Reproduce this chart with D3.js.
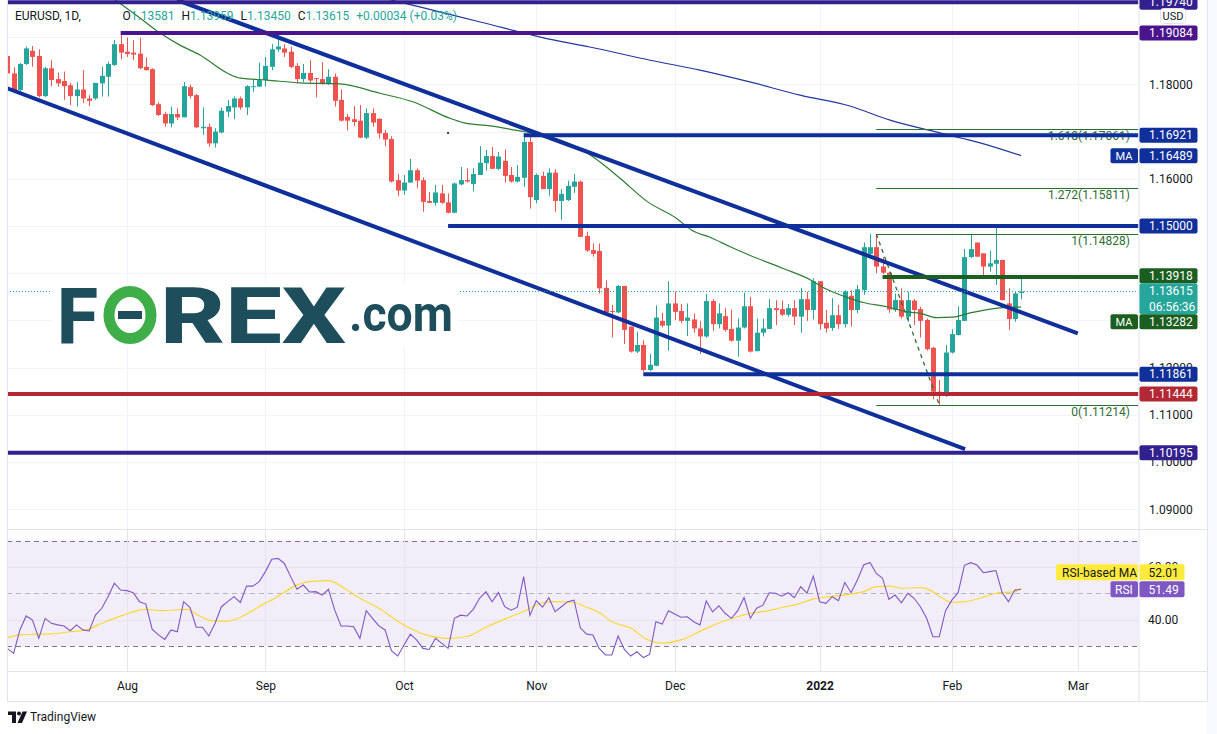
<!DOCTYPE html>
<html><head><meta charset="utf-8">
<script src="https://cdn.jsdelivr.net/npm/d3@7/dist/d3.min.js"></script>
<style>
html,body{margin:0;padding:0;background:#fff;}
svg{display:block;}
text{font-family:Roboto,"DejaVu Sans",Arial,sans-serif;}
</style></head><body>
<svg id="chart" width="1217" height="734"></svg>
<script>
// ---------------- DATA ----------------
const symbolTitle = "EURUSD, 1D,";
const countdown = "06:56:36";
const changeText = "+0.00034 (+0.03%)";

const openP = [
1.1860,1.1823,1.1788,1.1843,1.1871,1.1860,1.1775,1.1834,1.1811,1.1807,
1.1798,1.1775,1.1789,1.1770,1.1770,1.1802,1.1816,1.1841,1.1885,1.1869,
1.1867,1.1865,1.1837,1.1832,1.1758,1.1737,1.1717,1.1737,1.1730,1.1794,
1.1777,1.1707,1.1710,1.1675,1.1698,1.1742,1.1751,1.1770,1.1751,1.1794,
1.1795,1.1809,1.1837,1.1874,1.1876,1.1869,1.1839,1.1811,1.1824,1.1813,
1.1811,1.1801,1.1816,1.1767,1.1731,1.1726,1.1723,1.1687,1.1739,1.1727,
1.1697,1.1684,1.1597,1.1575,1.1592,1.1618,1.1597,1.1553,1.1549,1.1569,
1.1550,1.1528,1.1588,1.1597,1.1589,1.1608,1.1633,1.1648,1.1621,1.1638,
1.1608,1.1594,1.1602,1.1678,1.1555,1.1606,1.1578,1.1613,1.1553,1.1555,
1.1583,1.1594,1.1479,1.1449,1.1447,1.1369,1.1320,1.1317,1.1373,1.1287,
1.1234,1.1248,1.1195,1.1204,1.1299,1.1289,1.1336,1.1320,1.1299,1.1302,
1.1283,1.1266,1.1341,1.1292,1.1309,1.1282,1.1257,1.1285,1.1330,1.1235,
1.1274,1.1282,1.1326,1.1324,1.1312,1.1326,1.1308,1.1345,1.1322,1.1383,
1.1295,1.1284,1.1311,1.1292,1.1352,1.1322,1.1364,1.1441,1.1455,1.1414,
1.1401,1.1322,1.1343,1.1308,1.1342,1.1324,1.1301,1.1242,1.1149,1.1147,
1.1232,1.1269,1.1299,1.1434,1.1465,1.1442,1.1414,1.1420,1.1428,1.1336,
1.1303,1.13581];
const highP = [
1.1864,1.1836,1.1845,1.1880,1.1881,1.1874,1.1837,1.1851,1.1825,1.1827,
1.1803,1.1805,1.1830,1.1777,1.1803,1.1837,1.1848,1.1894,1.1904,1.1899,
1.1894,1.1899,1.1857,1.1834,1.1762,1.1742,1.1753,1.1749,1.1805,1.1799,
1.1780,1.1751,1.1717,1.1707,1.1751,1.1767,1.1774,1.1774,1.1798,1.1811,
1.1846,1.1858,1.1885,1.1904,1.1885,1.1880,1.1845,1.1843,1.1851,1.1813,
1.1847,1.1832,1.1823,1.1789,1.1737,1.1754,1.1756,1.1749,1.1749,1.1728,
1.1703,1.1690,1.1610,1.1608,1.1642,1.1622,1.1603,1.1572,1.1587,1.1587,
1.1569,1.1592,1.1625,1.1622,1.1622,1.1669,1.1661,1.1667,1.1657,1.1662,
1.1625,1.1629,1.1695,1.1689,1.1611,1.1615,1.1622,1.1620,1.1578,1.1596,
1.1610,1.1596,1.1488,1.1463,1.1463,1.1385,1.1333,1.1375,1.1373,1.1287,
1.1276,1.1258,1.1229,1.1332,1.1316,1.1383,1.1361,1.1335,1.1336,1.1315,
1.1299,1.1356,1.1345,1.1336,1.1326,1.1323,1.1304,1.1359,1.1350,1.1304,
1.1304,1.1345,1.1343,1.1342,1.1335,1.1343,1.1369,1.1361,1.1389,1.1383,
1.1322,1.1347,1.1333,1.1364,1.1364,1.1375,1.1465,1.1483,1.1483,1.1434,
1.1403,1.1357,1.1368,1.1361,1.1345,1.1329,1.1304,1.1244,1.1174,1.1248,
1.1281,1.1330,1.1451,1.1483,1.1465,1.1442,1.1448,1.1497,1.1429,1.1368,
1.1361,1.13959];
const lowP = [
1.1820,1.1784,1.1784,1.1841,1.1837,1.1772,1.1773,1.1796,1.1795,1.1767,
1.1756,1.1753,1.1760,1.1754,1.1767,1.1774,1.1774,1.1839,1.1853,1.1858,
1.1851,1.1832,1.1829,1.1754,1.1733,1.1710,1.1709,1.1724,1.1730,1.1770,
1.1707,1.1693,1.1668,1.1666,1.1696,1.1730,1.1726,1.1746,1.1735,1.1784,
1.1795,1.1795,1.1830,1.1869,1.1858,1.1834,1.1802,1.1805,1.1803,1.1772,
1.1799,1.1799,1.1753,1.1721,1.1702,1.1712,1.1686,1.1684,1.1710,1.1685,
1.1669,1.1592,1.1563,1.1566,1.1591,1.1580,1.1530,1.1549,1.1543,1.1547,
1.1527,1.1527,1.1586,1.1592,1.1573,1.1608,1.1617,1.1621,1.1618,1.1592,
1.1592,1.1592,1.1583,1.1537,1.1548,1.1578,1.1564,1.1530,1.1513,1.1553,
1.1570,1.1476,1.1445,1.1435,1.1357,1.1315,1.1264,1.1315,1.1250,1.1232,
1.1231,1.1191,1.1193,1.1203,1.1285,1.1236,1.1301,1.1294,1.1267,1.1274,
1.1229,1.1263,1.1278,1.1283,1.1276,1.1255,1.1223,1.1283,1.1232,1.1234,
1.1266,1.1281,1.1290,1.1309,1.1308,1.1290,1.1274,1.1299,1.1302,1.1280,
1.1274,1.1278,1.1282,1.1285,1.1287,1.1315,1.1354,1.1430,1.1400,1.1398,
1.1316,1.1318,1.1304,1.1297,1.1290,1.1264,1.1236,1.1133,1.1121,1.1138,
1.1230,1.1268,1.1298,1.1432,1.1434,1.1396,1.1403,1.1375,1.1342,1.1280,
1.1297,1.13450];
const closeP = [
1.1823,1.1788,1.1843,1.1876,1.1858,1.1775,1.1834,1.1809,1.1802,1.1796,
1.1775,1.1789,1.1770,1.1765,1.1803,1.1818,1.1843,1.1885,1.1867,1.1864,
1.1863,1.1834,1.1830,1.1756,1.1735,1.1717,1.1737,1.1730,1.1796,1.1775,
1.1709,1.1710,1.1675,1.1700,1.1744,1.1754,1.1770,1.1751,1.1796,1.1796,
1.1809,1.1839,1.1874,1.1880,1.1867,1.1837,1.1811,1.1824,1.1808,1.1811,
1.1801,1.1816,1.1765,1.1723,1.1723,1.1720,1.1687,1.1739,1.1719,1.1696,
1.1683,1.1594,1.1575,1.1592,1.1618,1.1596,1.1551,1.1549,1.1571,1.1549,
1.1528,1.1590,1.1597,1.1594,1.1610,1.1634,1.1648,1.1621,1.1647,1.1606,
1.1594,1.1604,1.1678,1.1561,1.1608,1.1578,1.1613,1.1553,1.1568,1.1585,
1.1594,1.1477,1.1448,1.1441,1.1368,1.1317,1.1318,1.1373,1.1280,1.1234,
1.1248,1.1195,1.1206,1.1306,1.1289,1.1336,1.1318,1.1299,1.1306,1.1283,
1.1266,1.1341,1.1292,1.1315,1.1280,1.1257,1.1285,1.1330,1.1234,1.1274,
1.1283,1.1326,1.1322,1.1312,1.1326,1.1308,1.1345,1.1322,1.1383,1.1292,
1.1283,1.1311,1.1292,1.1361,1.1322,1.1366,1.1455,1.1455,1.1414,1.1401,
1.1323,1.1343,1.1308,1.1343,1.1322,1.1299,1.1239,1.1149,1.1146,1.1232,
1.1271,1.1301,1.1434,1.1451,1.1435,1.1414,1.1421,1.1428,1.1343,1.1303,
1.1357,1.13615];

const rsiVals = [
29.1,27.2,36.1,41.4,39.8,32.9,40.5,38.6,38.0,37.6,
35.8,38.0,36.1,35.7,41.7,44.3,48.7,53.8,51.2,51.0,
50.2,46.8,45.9,36.4,34.2,32.5,36.1,35.4,46.8,44.7,
37.1,37.1,33.8,38.6,44.9,46.8,48.7,46.5,52.7,52.7,
54.4,58.2,62.9,63.2,61.3,56.3,51.5,53.1,50.5,50.6,
49.3,51.5,43.6,37.6,37.6,37.3,32.9,43.4,40.5,37.6,
36.1,28.2,26.2,30.4,34.5,32.3,29.1,28.7,32.9,31.0,
29.1,40.5,41.7,41.4,43.9,48.1,50.6,46.8,50.3,44.9,
43.6,44.7,56.3,41.6,47.2,44.7,48.3,43.0,44.9,46.8,
47.4,36.9,34.5,34.2,29.1,26.6,26.6,33.8,28.7,26.2,
27.8,25.6,26.8,39.2,38.3,43.4,42.1,40.9,41.1,39.2,
38.0,47.1,42.9,45.2,42.4,40.5,43.4,48.4,40.5,44.3,
45.5,50.2,50.0,48.9,50.2,48.3,52.5,50.0,56.5,46.8,
46.2,48.7,47.2,54.1,50.2,55.0,60.7,61.7,57.5,55.7,
47.7,49.3,46.4,50.0,48.1,44.9,40.5,33.5,33.5,43.4,
47.4,50.2,60.6,61.6,60.7,57.8,58.2,58.6,50.2,46.8,
51.2,51.49];

const maRsiIdx = [0,2,4,7,10,12.5,15,18.5,22,24.5,28.5,30.5,32.5,35,37,40.5,42.5,45.5,48,51,
53.5,56,59,63,66,70,73,76,79,82,85,87,90,92,94,96,99,101.5,104,107,110.5,113.5,116,118,120,
122.5,125.5,128,130.5,134,136,138,140,142,145,146.5,148,150,152,154.5,157,160,161];
const maRsiVal = [33.1,34.2,34.4,34.6,35.4,36.1,38.6,41.8,43.9,43.4,43.9,41.4,39.6,39.4,40.9,45.6,48.1,52.5,54.4,54.8,
51.9,48.1,44.3,38.0,34.6,32.9,33.6,37.1,40.2,43.1,46.4,46.8,46.5,44.7,42.7,39.2,36.8,32.6,31.1,32.3,36.1,39.2,41.1,42.4,43.0,
44.3,45.9,47.8,48.7,49.7,50.6,52.5,52.7,51.9,52.1,51.2,48.9,46.5,46.8,48.1,50.0,50.6,52.01];

const maGreenIdx = [16,21.5,24.2,27.4,30.6,34.9,37,41.2,46.5,52.8,59.2,64.4,70.3,72.4,76.7,81.9,86.2,91.3,94.4,97.3,
101.7,106.3,108.7,111.6,114.8,117.9,123.2,127.5,129.1,132.7,135.9,139.7,142.9,145,147.6,150.2,152.9,155.6,158.1,161];
const maGreenVal = [1.1990,1.1936,1.1909,1.1883,1.1862,1.1824,1.1813,1.1809,1.1803,1.1801,1.1781,1.1763,1.1728,1.1719,1.1712,1.1700,1.1689,1.1661,1.1633,1.1601,
1.1551,1.1516,1.1491,1.1476,1.1456,1.1438,1.1410,1.1386,1.1373,1.1352,1.1338,1.1329,1.1318,1.1315,1.1306,1.1307,1.1316,1.1323,1.1327,1.13282];

const maBlueIdx = [58,60.8,65.5,75.1,86.7,92.5,102.1,110,117.9,125.9,133.8,140.2,148.1,154.5,161];
const maBlueVal = [1.1990,1.1979,1.1964,1.1932,1.1894,1.1879,1.1851,1.1830,1.1805,1.1777,1.1754,1.1724,1.1697,1.1676,1.16489];

// horizontal drawn levels and the bar where each begins (-1 = from the left edge)
const levelPrices = [1.19740,1.19084,1.16921,1.15000,1.13918,1.11861,1.11444,1.10195];
const levelFrom   = [-1,18,82,70,139,101,-1,-1];

// trend lines: [barIndex, price] pairs
const channelUpper = [[26.95,1.19785],[170.0,1.12726]];
const channelLower = [[0,1.17915],[152.1,1.10275]];

// Fibonacci extension
const fibRatios = ["0","1","1.272","1.618"];
const fibPrices = [1.11214,1.14828,1.15811,1.17061];
const fibFrom = 138;
const fibSwing = [[138,1.14828],[148,1.11214]];

const strayMark = [70,1.1697];

const priceTicks = [1.09,1.10,1.11,1.12,1.13,1.14,1.15,1.16,1.17,1.18,1.19];
const rsiTicks = [40,60];
const rsiLevels = [70,50,30];
const monthLabels = ["Aug","Sep","Oct","Nov","Dec","2022","Feb","Mar"];
const monthIdx = [19,41,63,84,106,129,150,170];

// ---------------- STYLE ----------------
const C = {up:"#26a69a",down:"#ef5350",blue:"#0f2f9a",purple:"#4a148c",indigo:"#33208f",
  red:"#b22833",green:"#1b5e20",fib:"#2e6d31",grid:"#f0f3fa",border:"#e0e3eb",text:"#131722",
  rsi:"#7e57c2",rsiMa:"#fdd835",rsiBand:"#f2eef9",maGreen:"#2e7d32",maBlue:"#23389c",yellow:"#ffeb3b"};
const levelColor = [C.indigo,C.purple,C.blue,C.blue,C.green,C.blue,C.red,C.indigo];

const plotL = 7, plotR = 1138.5, mainT = 0, mainB = 529, rsiT = 530, rsiB = 671, axisB = 701, rightB = 1207;

const x  = d3.scaleLinear().domain([0,161]).range([7.3,1021.1]);
const y  = d3.scaleLinear().domain([1.09,1.18]).range([509.3,84.3]);
const yr = d3.scaleLinear().domain([30,70]).range([646,540.5]);

const svg = d3.select("#chart");
const defs = svg.append("defs");
defs.append("clipPath").attr("id","clipMain").append("rect")
  .attr("x",plotL+0.5).attr("y",mainT).attr("width",plotR-plotL-0.5).attr("height",mainB-mainT);
defs.append("clipPath").attr("id","clipRsi").append("rect")
  .attr("x",plotL+0.5).attr("y",rsiT).attr("width",plotR-plotL-0.5).attr("height",rsiB-rsiT);

svg.append("rect").attr("x",rightB).attr("y",0).attr("width",1217-rightB).attr("height",734).attr("fill","#f8f9fd");

// ---------- grids ----------
const gGrid = svg.append("g");
gGrid.selectAll(".hg").data(priceTicks).join("line")
  .attr("x1",plotL).attr("x2",plotR).attr("y1",d=>Math.round(y(d))+0.5).attr("y2",d=>Math.round(y(d))+0.5)
  .attr("stroke",C.grid);
gGrid.selectAll(".vg").data(monthIdx).join("line")
  .attr("x1",d=>Math.round(x(d))+0.5).attr("x2",d=>Math.round(x(d))+0.5)
  .attr("y1",mainT).attr("y2",mainB).attr("stroke",C.grid);

// ---------- main pane ----------
const gMain = svg.append("g").attr("clip-path","url(#clipMain)");
const idx = d3.range(closeP.length);
const cx = i => Math.round(x(i));
gMain.selectAll(".wick").data(idx).join("line")
  .attr("x1",i=>cx(i)+0.5).attr("x2",i=>cx(i)+0.5)
  .attr("y1",i=>y(highP[i])).attr("y2",i=>y(lowP[i]))
  .attr("stroke",i=>closeP[i]>=openP[i]?C.up:C.down).attr("stroke-width",1);
gMain.selectAll(".body").data(idx).join("rect")
  .attr("x",i=>cx(i)-2).attr("width",5)
  .attr("y",i=>y(Math.max(openP[i],closeP[i])))
  .attr("height",i=>Math.max(1,Math.abs(y(openP[i])-y(closeP[i]))))
  .attr("fill",i=>closeP[i]>=openP[i]?C.up:C.down);

const maLine = d3.line().x(d=>x(d[0])).y(d=>y(d[1])).curve(d3.curveMonotoneX);
gMain.append("path").attr("d",maLine(maGreenIdx.map((d,k)=>[d,maGreenVal[k]])))
  .attr("fill","none").attr("stroke",C.maGreen).attr("stroke-width",1.2);
gMain.append("path").attr("d",maLine(maBlueIdx.map((d,k)=>[d,maBlueVal[k]])))
  .attr("fill","none").attr("stroke",C.maBlue).attr("stroke-width",1.2);
gMain.append("rect").attr("x",x(strayMark[0])-1).attr("y",y(strayMark[1])-1).attr("width",2).attr("height",2).attr("fill",C.maBlue);

// fib
gMain.selectAll(".fib").data(fibPrices).join("line")
  .attr("x1",x(fibFrom)).attr("x2",plotR).attr("y1",d=>Math.round(y(d))+0.5).attr("y2",d=>Math.round(y(d))+0.5)
  .attr("stroke",C.fib).attr("stroke-width",1);
gMain.selectAll(".fibt").data(fibPrices).join("text")
  .attr("x",1130).attr("y",d=>y(d)+11).attr("text-anchor","end")
  .attr("font-size",12).attr("fill",C.fib)
  .text((d,k)=>fibRatios[k]+"("+d.toFixed(5)+")");
gMain.append("line").attr("x1",x(fibSwing[0][0])).attr("y1",y(fibSwing[0][1]))
  .attr("x2",x(fibSwing[1][0])).attr("y2",y(fibSwing[1][1]))
  .attr("stroke",C.fib).attr("stroke-width",1.3).attr("stroke-dasharray","4,4");

// trend lines
[channelUpper,channelLower].forEach(seg=>{
  gMain.append("line").attr("x1",x(seg[0][0])).attr("y1",y(seg[0][1]))
    .attr("x2",x(seg[1][0])).attr("y2",y(seg[1][1]))
    .attr("stroke",C.blue).attr("stroke-width",4);
});
// horizontal levels
gMain.selectAll(".lvl").data(levelPrices).join("line")
  .attr("x1",(d,k)=>levelFrom[k]<0?plotL:x(levelFrom[k])).attr("x2",plotR)
  .attr("y1",d=>y(d)).attr("y2",d=>y(d))
  .attr("stroke",(d,k)=>levelColor[k]).attr("stroke-width",4);

// current price dotted
const lastClose = closeP[closeP.length-1];
gMain.append("line").attr("x1",plotL).attr("x2",plotR)
  .attr("y1",Math.round(y(lastClose))+0.5).attr("y2",Math.round(y(lastClose))+0.5)
  .attr("stroke",C.up).attr("stroke-dasharray","1,2");

// ---------- watermark ----------
const wm = svg.append("g");
wm.append("rect").attr("x",52).attr("y",283).attr("width",406).attr("height",64).attr("fill","#fff");
wm.append("text").attr("x",57).attr("y",343).attr("font-family","'Open Sans',Roboto,sans-serif")
  .attr("font-weight",800).attr("font-size",78).attr("fill","#1e4d5c").attr("textLength",41)
  .attr("lengthAdjust","spacingAndGlyphs").text("F");
wm.append("ellipse").attr("cx",130).attr("cy",315).attr("rx",21).attr("ry",23.5)
  .attr("fill","none").attr("stroke","#3fae49").attr("stroke-width",11);
wm.append("rect").attr("x",118).attr("y",311).attr("width",24).attr("height",8).attr("fill","#1e4d5c");
wm.append("text").attr("x",160).attr("y",343).attr("font-family","'Open Sans',Roboto,sans-serif")
  .attr("font-weight",800).attr("font-size",78).attr("fill","#1e4d5c").attr("textLength",186)
  .attr("lengthAdjust","spacingAndGlyphs").text("REX");
wm.append("text").attr("x",349).attr("y",331).attr("font-family","'Open Sans',Roboto,sans-serif")
  .attr("font-weight",700).attr("font-size",50).attr("fill","#1e4d5c").attr("textLength",104)
  .attr("lengthAdjust","spacingAndGlyphs").text(".com");

// ---------- RSI pane ----------
const gRsi = svg.append("g").attr("clip-path","url(#clipRsi)");
gRsi.append("rect").attr("x",plotL).attr("width",plotR-plotL).attr("y",yr(70)).attr("height",yr(30)-yr(70)).attr("fill",C.rsiBand);
gRsi.selectAll(".rg").data(rsiTicks).join("line")
  .attr("x1",plotL).attr("x2",plotR).attr("y1",d=>Math.round(yr(d))+0.5).attr("y2",d=>Math.round(yr(d))+0.5)
  .attr("stroke","#e6e3ef");
gRsi.selectAll(".rl").data(rsiLevels).join("line")
  .attr("x1",plotL).attr("x2",plotR).attr("y1",d=>Math.round(yr(d))+0.5).attr("y2",d=>Math.round(yr(d))+0.5)
  .attr("stroke",d=>d===50?"#b5b3c0":"#787b86").attr("stroke-dasharray","5,4");
gRsi.selectAll(".vg3").data(monthIdx).join("line")
  .attr("x1",d=>Math.round(x(d))+0.5).attr("x2",d=>Math.round(x(d))+0.5)
  .attr("y1",rsiT).attr("y2",rsiB).attr("stroke","#e6e3ef");
const rLine = d3.line().x(d=>x(d[0])).y(d=>yr(d[1]));
gRsi.append("path").attr("d",d3.line().x(d=>x(d[0])).y(d=>yr(d[1])).curve(d3.curveMonotoneX)(maRsiIdx.map((d,k)=>[d,maRsiVal[k]])))
  .attr("fill","none").attr("stroke",C.rsiMa).attr("stroke-width",1.2);
gRsi.append("path").attr("d",rLine(rsiVals.map((v,i)=>[i,v])))
  .attr("fill","none").attr("stroke",C.rsi).attr("stroke-width",1.1);

// ---------- borders ----------
const gB = svg.append("g").attr("stroke",C.border).attr("stroke-width",1);
gB.append("line").attr("x1",plotL+0.5).attr("x2",plotL+0.5).attr("y1",0).attr("y2",axisB);
gB.append("line").attr("x1",plotR+0.5).attr("x2",plotR+0.5).attr("y1",0).attr("y2",axisB);
gB.append("line").attr("x1",rightB+0.5).attr("x2",rightB+0.5).attr("y1",0).attr("y2",axisB);
gB.append("line").attr("x1",plotL).attr("x2",rightB).attr("y1",mainB+0.5).attr("y2",mainB+0.5);
gB.append("line").attr("x1",plotL).attr("x2",rightB).attr("y1",rsiB+0.5).attr("y2",rsiB+0.5);
gB.append("line").attr("x1",plotL).attr("x2",rightB).attr("y1",axisB+0.5).attr("y2",axisB+0.5);

// ---------- price-axis labels (positions resolved first) ----------
const maBlueLast = maBlueVal[maBlueVal.length-1];
const maGreenLast = maGreenVal[maGreenVal.length-1];
const lbls = [
  {v:levelPrices[0],fill:levelColor[0]},
  {v:levelPrices[1],fill:levelColor[1]},
  {v:levelPrices[2],fill:levelColor[2]},
  {v:maBlueLast,fill:C.blue,tag:"MA"},
  {v:levelPrices[3],fill:levelColor[3]},
  {v:levelPrices[4],fill:levelColor[4]},
  {v:lastClose,fill:C.up,fixed:true,sub:countdown},
  {v:maGreenLast,fill:C.green,tag:"MA"},
  {v:levelPrices[5],fill:levelColor[5]},
  {v:levelPrices[6],fill:levelColor[6]},
  {v:levelPrices[7],fill:levelColor[7]}
];
lbls.forEach(l=>{ l.h = l.fixed?31:15; l.top = l.fixed? y(l.v)-8 : y(l.v)-7.5; });
const fi = lbls.findIndex(l=>l.fixed);
for(let k=fi-1;k>=0;k--){ const l=lbls[k]; l.top=Math.min(l.top,lbls[k+1].top-l.h); }
for(let k=fi+1;k<lbls.length;k++){ const l=lbls[k]; l.top=Math.max(l.top,lbls[k-1].top+lbls[k-1].h); }

// tick labels mostly hidden behind a label box are dropped (as the price scale does)
const coverage = t => {
  const c = y(t), a = c-6, b = c+6;
  return d3.max(lbls, l => Math.max(0, Math.min(b, l.top+l.h) - Math.max(a, l.top))) / 12;
};
const shownTicks = priceTicks.filter(t => coverage(t) < 0.7);

// ---------- axes ----------
const gPA = svg.append("g").attr("transform",`translate(${plotR+0.5},0)`)
  .call(d3.axisRight(y).tickValues(shownTicks).tickFormat(d3.format(".5f")).tickSize(0).tickPadding(10));
gPA.select(".domain").remove();
gPA.selectAll("text").attr("font-size",12).attr("fill",C.text).attr("font-family","Roboto,'DejaVu Sans',sans-serif");

const gRA = svg.append("g").attr("transform",`translate(${plotR+0.5},0)`)
  .call(d3.axisRight(yr).tickValues(rsiTicks).tickFormat(d3.format(".2f")).tickSize(0).tickPadding(9));
gRA.select(".domain").remove();
gRA.selectAll("text").attr("font-size",12).attr("fill",C.text).attr("font-family","Roboto,'DejaVu Sans',sans-serif");

const gTA = svg.append("g").attr("transform",`translate(0,${rsiB})`)
  .call(d3.axisBottom(x).tickValues(monthIdx).tickFormat((d,k)=>monthLabels[k]).tickSize(0).tickPadding(10));
gTA.select(".domain").remove();
gTA.selectAll("text").attr("font-size",12).attr("fill",C.text).attr("font-family","Roboto,'DejaVu Sans',sans-serif")
  .attr("font-weight",(d,k)=>/^\d{4}$/.test(monthLabels[k])?700:400);

// ---------- label boxes ----------
const gL = svg.append("g");
lbls.forEach(l=>{
  gL.append("rect").attr("x",plotR+1).attr("y",l.top).attr("width",58).attr("height",l.h).attr("rx",2).attr("fill",l.fill);
  gL.append("text").attr("x",plotR+10.5).attr("y",l.top+7.5).attr("dy","0.35em").attr("font-size",12).attr("fill","#fff").text(l.v.toFixed(5));
  if(l.sub) gL.append("text").attr("x",plotR+10.5).attr("y",l.top+23).attr("dy","0.35em").attr("font-size",12).attr("fill","#fff").text(l.sub);
  if(l.tag){
    gL.append("rect").attr("x",1110.5).attr("y",l.top).attr("width",27.5).attr("height",l.h).attr("rx",2).attr("fill",l.fill);
    gL.append("text").attr("x",1124).attr("y",l.top+7.5).attr("dy","0.35em").attr("text-anchor","middle").attr("font-size",11).attr("fill","#fff").text(l.tag);
  }
});
// USD box
gL.append("rect").attr("x",1160.5).attr("y",8.5).attr("width",25).attr("height",15).attr("rx",3).attr("fill","#fff").attr("stroke",C.border);
gL.append("text").attr("x",1173).attr("y",16).attr("dy","0.35em").attr("text-anchor","middle").attr("font-size",11).attr("fill",C.text).text("USD");

// RSI labels
const rsiLast = rsiVals[rsiVals.length-1];
const rsiMaLast = maRsiVal[maRsiVal.length-1];
const rTop = yr(rsiLast)-8;
const mTop = Math.min(yr(rsiMaLast)-8, rTop-17);
gL.append("rect").attr("x",plotR+1).attr("y",rTop).attr("width",45).attr("height",16).attr("rx",2).attr("fill",C.rsi);
gL.append("text").attr("x",plotR+10).attr("y",rTop+8).attr("dy","0.35em").attr("font-size",12).attr("fill","#fff").text(rsiLast.toFixed(2));
gL.append("rect").attr("x",1110.5).attr("y",rTop).attr("width",27.5).attr("height",16).attr("rx",2).attr("fill",C.rsi);
gL.append("text").attr("x",1124).attr("y",rTop+8).attr("dy","0.35em").attr("text-anchor","middle").attr("font-size",12).attr("fill","#fff").text("RSI");
gL.append("rect").attr("x",plotR+1).attr("y",mTop).attr("width",45).attr("height",16).attr("rx",2).attr("fill",C.yellow);
gL.append("text").attr("x",plotR+10).attr("y",mTop+8).attr("dy","0.35em").attr("font-size",12).attr("fill",C.text).text(rsiMaLast.toFixed(2));
gL.append("rect").attr("x",1056).attr("y",mTop).attr("width",82).attr("height",16).attr("rx",2).attr("fill",C.yellow);
gL.append("text").attr("x",1062).attr("y",mTop+8).attr("dy","0.35em").attr("font-size",12).attr("fill",C.text).text("RSI-based MA");

// ---------- header ----------
const n = closeP.length-1;
svg.append("text").attr("x",15).attr("y",16).attr("dy","0.35em").attr("font-size",12).attr("fill",C.text).text(symbolTitle);
const hdr = svg.append("text").attr("x",122.5).attr("y",16).attr("dy","0.35em").attr("font-size",12);
[["O",openP[n]],["H",highP[n]],["L",lowP[n]],["C",closeP[n]]].forEach((p,k)=>{
  hdr.append("tspan").attr("dx",k?7:0).attr("fill",C.text).text(p[0]);
  hdr.append("tspan").attr("fill",C.up).text(p[1].toFixed(5));
});
hdr.append("tspan").attr("dx",7).attr("fill",C.up).text(changeText);

// ---------- footer logo ----------
const lg = svg.append("g").attr("fill",C.text);
lg.append("path").attr("d","M8,711.5 H16 V723 H12 V715 H8 Z");
lg.append("circle").attr("cx",19).attr("cy",713.5).attr("r",2);
lg.append("path").attr("d","M22.5,711.5 H27 L22,723 H17.5 Z");
svg.append("text").attr("x",30).attr("y",717).attr("dy","0.35em").attr("font-size",12).attr("fill",C.text).text("TradingView");
</script>
</body></html>
